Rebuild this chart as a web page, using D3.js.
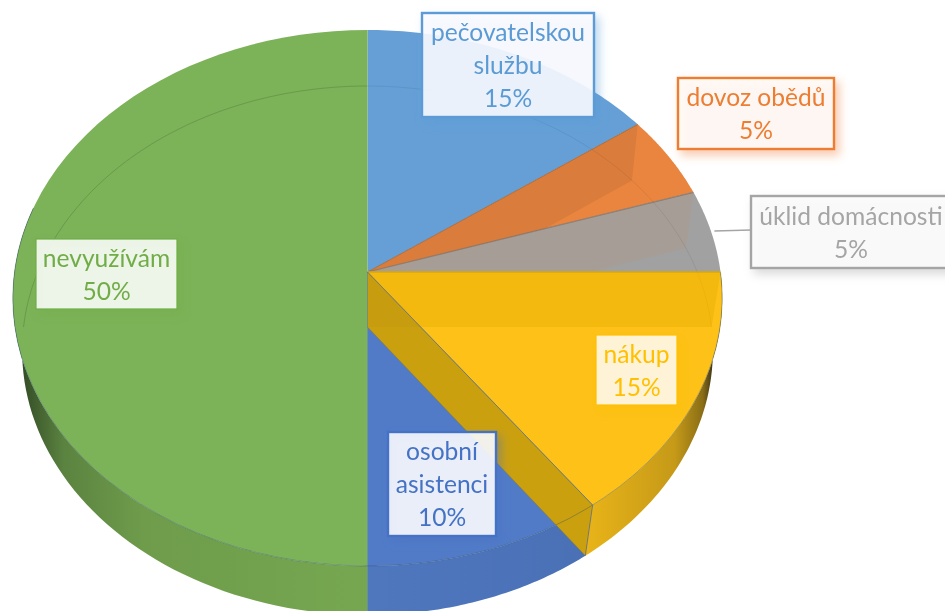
<!DOCTYPE html>
<html><head><meta charset="utf-8">
<script src="https://cdn.jsdelivr.net/npm/d3@7"></script>
<style>html,body{margin:0;padding:0;background:#fff;overflow:hidden}svg{display:block;filter:blur(0.4px)}</style>
</head><body>
<svg id="c" width="945" height="611"></svg>
<script>
const categories = ["pečovatelskou služby","dovoz obědů","úklid domácnosti","nákup","osobní asistenci","nevyužívám"];
const labelLines = [["pečovatelskou","službu"],["dovoz obědů"],["úklid domácnosti"],["nákup"],["osobní","asistenci"],["nevyužívám"]];
const values = [15,5,5,15,10,50];
const topColors = ["#659FD6","#EA8540","#A1A1A1","#FDC117","#517BC7","#7CB258"];
const labelColors = ["#5B9BD5","#ED7D31","#A5A5A5","#FFC000","#4472C4","#70AD47"];
const boxFills = ["#FAFCFF","#FFFAF6","#FCFCFC","#FFF9EC","#FBFCFF","#FBFDF9"];
const faceColors = [null,"#DA7C3C","#A69D96","#F3B90E",null,null];
const wallStops = [
  null,null,null,
  [[0,"#E9B419"],[0.7,"#C69A18"],[0.92,"#8A6E16"],[1,"#3F3516"]],
  [[0,"#4A71B6"],[1,"#4F77BE"]],
  [[0,"#344D26"],[0.12,"#5B8340"],[0.35,"#6E9C4B"],[1,"#76A750"]]
];
const labelBoxes = [[422,13,172,104],[678,78,156,71],[751,196,200,72],[596,335,81,70],[388,432,108,104],[36,239,141,70]];

const svg = d3.select("#c");
const defs = svg.append("defs");
const top3d = {cx:367.5,cy:272,R:353,S:265.5,k:0.097};
const low3d = {cx:367.5,cy:327,R:344,S:262.4,k:0.0888};
const project = (g,a)=>{ const u=Math.sin(a), v=-Math.cos(a), w=1-g.k*v;
  return [g.cx+g.R*u/w, g.cy+g.S*v/w]; };
const apex = g=>[g.cx,g.cy];
const arcPts = (g,a0,a1)=>d3.range(0,61).map(i=>project(g,a0+(a1-a0)*i/60));
const line = d3.line();
const closed = pts=>line(pts)+"Z";

const slices = d3.pie().sort(null).value(d=>d)(values);
const Q = Math.PI/2;

// side walls
slices.forEach((s,i)=>{
  const a0=Math.max(s.startAngle,Q), a1=Math.min(s.endAngle,3*Q+0.25);
  if(a1<=a0||!wallStops[i])return;
  const up=arcPts(top3d,a0,a1), lo=arcPts(low3d,a0,a1);
  const xs=lo.map(p=>p[0]);
  let x1=project(low3d,a0)[0], x2=d3.min(xs), g2=d3.max(xs);
  if(i===3){x1=project(low3d,s.endAngle)[0];x2=g2;}
  if(i===4){x1=d3.max(xs);x2=d3.min(xs);}
  if(i===5){x1=d3.min(xs);x2=project(low3d,s.startAngle)[0];}
  const id="w"+i;
  const gr=defs.append("linearGradient").attr("id",id).attr("gradientUnits","userSpaceOnUse")
    .attr("x1",x1).attr("x2",x2).attr("y1",0).attr("y2",0);
  wallStops[i].forEach(st=>gr.append("stop").attr("offset",st[0]).attr("stop-color",st[1]));
  svg.append("path").attr("d",closed(up.concat(lo.reverse()))).attr("fill",`url(#${id})`);
});

// top faces
const sectorD = s=>closed([apex(top3d)].concat(arcPts(top3d,s.startAngle,s.endAngle)));
slices.forEach((s,i)=>{
  defs.append("clipPath").attr("id","cp"+i).append("path").attr("d",sectorD(s));
  svg.append("path").attr("d",sectorD(s)).attr("fill",topColors[i]);
});

// cut faces seen through the translucent top
const face = a=>closed([apex(top3d),project(top3d,a),project(low3d,a),apex(low3d)]);
slices.forEach((s,i)=>{
  if(!faceColors[i])return;
  svg.append("path").attr("d",face(s.startAngle)).attr("fill",faceColors[i]).attr("clip-path",`url(#cp${i})`);
});
// back rim of the lower plane seen through
[0,1,2,3,5].forEach(i=>{
  const s=slices[i];
  svg.append("path").attr("fill","none").attr("stroke","#000").attr("stroke-opacity",i===3?0.03:0.07).attr("stroke-width",1)
    .attr("clip-path",`url(#cp${i})`)
    .attr("d",line(arcPts(low3d,-Q,Q))+line(arcPts(low3d,3*Q,2*Math.PI)));
});
// the cut face of the nákup slice, hanging over osobní asistenci
const nakup=slices[3];
svg.append("path").attr("d",face(nakup.endAngle)).attr("fill","#CBA00F");
svg.append("path").attr("d",closed([apex(top3d),project(top3d,Q),project(low3d,Q),apex(low3d)]))
   .attr("fill","#000").attr("fill-opacity",0.02).attr("clip-path","url(#cp4)");

// edges
const edge=(d,c,o,w)=>svg.append("path").attr("d",d).attr("fill","none").attr("stroke",c).attr("stroke-opacity",o).attr("stroke-width",w||1);
edge(line(arcPts(top3d,Q,3*Q+0.25)),"#2F4F6F",0.4);
edge(line([apex(top3d),project(top3d,slices[0].endAngle)]),"#8A5A30",0.6);
edge(line([apex(top3d),project(top3d,slices[1].endAngle)]),"#77706A",0.7,1.2);
edge(line([apex(top3d),project(top3d,slices[2].endAngle)]),"#D9A808",1,1.5);
edge(line([apex(top3d),project(top3d,nakup.endAngle)]),"#8A7A30",0.6);
edge(line([project(top3d,nakup.endAngle),project(low3d,nakup.endAngle)]),"#5A6A80",0.7);
edge(line([apex(low3d),project(low3d,nakup.endAngle)]),"#8C7A2A",0.5);
edge(line([apex(top3d),project(top3d,nakup.endAngle)]),"#4472C4",0.5);
edge(line([apex(top3d),[top3d.cx,611]]),"#3E6A9A",0.45);

// label boxes
slices.forEach((s,i)=>{
  const f=defs.append("filter").attr("id","sh"+i).attr("x","-20%").attr("y","-20%").attr("width","150%").attr("height","150%");
  f.append("feDropShadow").attr("dx",4).attr("dy",5).attr("stdDeviation",5).attr("flood-color",labelColors[i]).attr("flood-opacity",0.45);
});
// leader line
const lb=labelBoxes[2];
svg.append("line").attr("x1",project(top3d,slices[2].startAngle+0.2)[0]).attr("x2",lb[0]).attr("y1",231).attr("y2",230)
   .attr("stroke","#A5A5A5").attr("stroke-width",1.5);

slices.forEach((s,i)=>{
  const b=labelBoxes[i], g=svg.append("g");
  g.append("rect").attr("x",b[0]).attr("y",b[1]).attr("width",b[2]).attr("height",b[3])
    .attr("fill",boxFills[i]).attr("fill-opacity",0.88)
    .attr("stroke",labelColors[i]).attr("stroke-width",i===3||i===5?1.2:2.4).attr("filter",`url(#sh${i})`);
  const lines=labelLines[i].concat([values[i]+"%"]);
  const midX=b[0]+b[2]/2;
  const first=b[1]+b[3]/2-(lines.length-1)*33/2+9;
  lines.forEach((t,j)=>g.append("text").attr("x",midX).attr("y",first+j*33)
    .attr("text-anchor","middle").attr("font-family","Lato, 'Open Sans', sans-serif").attr("font-size",24.6)
    .attr("fill",labelColors[i]).text(t));
});
</script>
</body></html>
